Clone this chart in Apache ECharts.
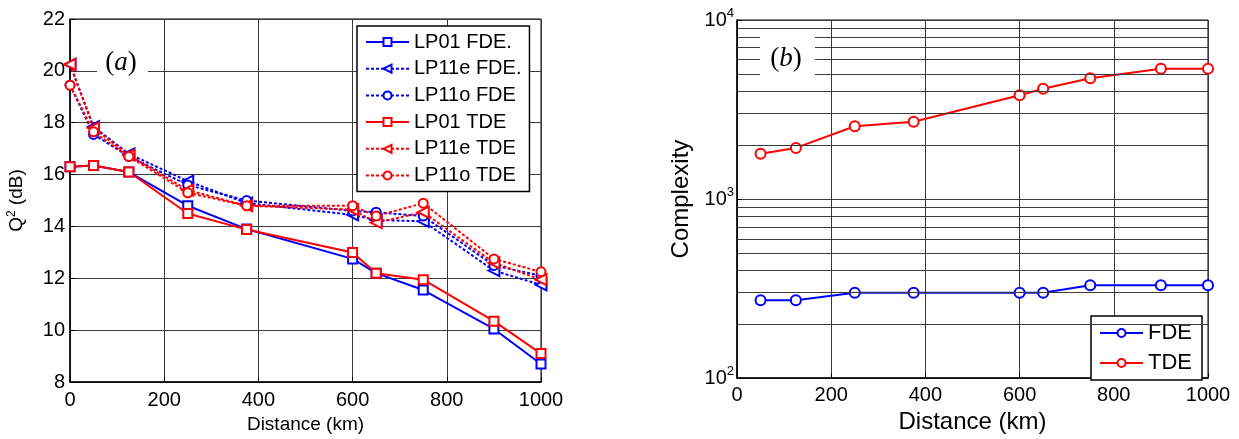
<!DOCTYPE html>
<html>
<head>
<meta charset="utf-8">
<script src="https://cdn.jsdelivr.net/npm/echarts@6/dist/echarts.min.js"></script>
<style>
html,body{margin:0;padding:0;background:#fff;}
#c{width:1239px;height:439px;}
</style>
</head>
<body>
<div id="c"></div>
<script>
// ---- Data (a) ----
const distA = [0, 50, 125, 250, 375, 600, 650, 750, 900, 1000];
const lp01FDE  = [16.3, 16.35, 16.1, 14.8, 13.9, 12.75, 12.2, 11.55, 10.05, 8.7];
const lp11eFDE = [20.25, 17.85, 16.8, 15.75, 14.9, 14.45, 14.25, 14.2, 12.3, 11.75];
const lp11oFDE = [19.45, 17.55, 16.7, 15.6, 15.0, 14.6, 14.55, 14.4, 12.5, 12.1];
const lp01TDE  = [16.3, 16.35, 16.1, 14.5, 13.88, 13.0, 12.2, 11.95, 10.35, 9.1];
const lp11eTDE = [20.25, 17.8, 16.75, 15.4, 14.8, 14.65, 14.15, 14.55, 12.6, 11.95];
const lp11oTDE = [19.45, 17.65, 16.7, 15.3, 14.8, 14.8, 14.4, 14.9, 12.75, 12.25];
// ---- Data (b) ----
const distB = [50, 125, 250, 375, 600, 650, 750, 900, 1000];
const complexFDE = [272, 272, 300, 300, 300, 300, 330, 330, 330];
const complexTDE = [1790, 1930, 2550, 2700, 3800, 4130, 4730, 5350, 5350];
const minorGridB = [200,300,400,500,600,700,800,900,2000,3000,4000,5000,6000,7000,8000,9000];

const FONT = '"Liberation Sans", Arial, sans-serif';
const BLUE = '#0000ff', RED = '#ff0000', GRID = '#3a3a3a';
const pairs = (xs, ys) => xs.map((x, i) => [x, ys[i]]);
const dotted = [3, 2];
const plain = v => String(v);

function lineSeries(name, xs, ys, color, symbol, dashed, extra) {
  const s = {
    name, type: 'line', xAxisIndex: 0, yAxisIndex: 0,
    data: pairs(xs, ys),
    symbol, symbolSize: symbol === 'emptyTriangle' ? 11 : 9,
    symbolRotate: symbol === 'emptyTriangle' ? 90 : 0,
    showAllSymbol: true,
    lineStyle: { color, width: 2, type: dashed ? dotted : 'solid' },
    itemStyle: { color, borderWidth: 1.5 },
    emphasis: { disabled: true },
    animation: false
  };
  return Object.assign(s, extra || {});
}

const axisCommon = {
  axisLine: { show: true, onZero: false, lineStyle: { color: '#000', width: 1.5 } },
  axisTick: { show: true, inside: true, length: 5, lineStyle: { color: '#000' } },
  axisLabel: { color: '#000', fontFamily: FONT, fontSize: 20, formatter: plain },
  splitLine: { show: true, lineStyle: { color: GRID, width: 1 } }
};

const option = {
  backgroundColor: '#fff',
  animation: false,
  grid: [
    { left: 70, top: 19, width: 471, height: 366, show: true, borderColor: '#000', borderWidth: 1 },
    { left: 737, top: 20, width: 471, height: 361, show: true, borderColor: '#000', borderWidth: 1 }
  ],
  xAxis: [
    Object.assign({}, axisCommon, {
      type: 'value', gridIndex: 0, min: 0, max: 1000, interval: 200,
      name: 'Distance (km)', nameLocation: 'middle', nameGap: 29,
      nameTextStyle: { color: '#000', fontFamily: FONT, fontSize: 19 },
      axisLabel: { color: '#000', fontFamily: FONT, fontSize: 20, margin: 8, formatter: plain }
    }),
    Object.assign({}, axisCommon, {
      type: 'value', gridIndex: 1, min: 0, max: 1000, interval: 200,
      name: 'Distance (km)', nameLocation: 'middle', nameGap: 22,
      nameTextStyle: { color: '#000', fontFamily: FONT, fontSize: 24 },
      axisLabel: { color: '#000', fontFamily: FONT, fontSize: 20, margin: 7, formatter: plain }
    })
  ],
  yAxis: [
    Object.assign({}, axisCommon, {
      type: 'value', gridIndex: 0, min: 8, max: 22, interval: 2,
      name: '{q|Q}{s|2}{q| (dB)}', nameLocation: 'middle', nameGap: 42,
      nameTextStyle: {
        color: '#000', fontFamily: FONT, fontSize: 19,
        rich: {
          q: { fontFamily: FONT, fontSize: 19, color: '#000' },
          s: { fontFamily: FONT, fontSize: 12, color: '#000', verticalAlign: 'top', padding: [0, 0, 10, 0] }
        }
      },
      axisLabel: { color: '#000', fontFamily: FONT, fontSize: 20, margin: 5, formatter: plain }
    }),
    Object.assign({}, axisCommon, {
      type: 'log', logBase: 10, gridIndex: 1, min: 100, max: 10000,
      name: 'Complexity', nameLocation: 'middle', nameGap: 44,
      nameTextStyle: { color: '#000', fontFamily: FONT, fontSize: 24 },
      axisLabel: {
        margin: 3,
        formatter: function (v) {
          const e = Math.round(Math.log10(v));
          return '{b|10}{s|' + e + '}';
        },
        rich: {
          b: { fontFamily: FONT, fontSize: 20, color: '#000' },
          s: { fontFamily: FONT, fontSize: 13, color: '#000', padding: [0, 0, 14, 0] }
        }
      }
    })
  ],
  legend: [
    {
      left: 357, top: 26, orient: 'vertical',
      padding: [6, 8, 6, 8],
      itemWidth: 43, itemHeight: 10, itemGap: 6.7,
      backgroundColor: '#fff', borderColor: '#000', borderWidth: 1.5, borderRadius: 0,
      textStyle: { color: '#000', fontFamily: FONT, fontSize: 20, lineHeight: 20 },
      data: ['LP01 FDE.', 'LP11e FDE.', 'LP11o FDE', 'LP01 TDE', 'LP11e TDE', 'LP11o TDE'],
      selectedMode: false
    },
    {
      left: 1091, top: 316, orient: 'vertical',
      padding: [6, 10, 6, 8],
      itemWidth: 43, itemHeight: 10, itemGap: 8,
      backgroundColor: '#fff', borderColor: '#000', borderWidth: 1.5, borderRadius: 0,
      textStyle: { color: '#000', fontFamily: FONT, fontSize: 22, lineHeight: 22 },
      data: ['FDE', 'TDE'],
      selectedMode: false
    }
  ],
  graphic: [
    { type: 'rect', z: 99, shape: { x: 97, y: 50, width: 51, height: 30 }, style: { fill: '#fff' } },
    { type: 'text', z: 100, x: 121, y: 63,
      style: { text: '{p|(}{i|a}{p|)}', align: 'center', verticalAlign: 'middle',
        rich: { p: { fontFamily: '"Liberation Serif", serif', fontSize: 27, fill: '#000' },
                i: { fontFamily: '"Liberation Serif", serif', fontStyle: 'italic', fontSize: 27, fill: '#000' } } } },
    { type: 'rect', z: 99, shape: { x: 760, y: 33, width: 55, height: 48 }, style: { fill: '#fff' } },
    { type: 'text', z: 100, x: 786, y: 59,
      style: { text: '{p|(}{i|b}{p|)}', align: 'center', verticalAlign: 'middle',
        rich: { p: { fontFamily: '"Liberation Serif", serif', fontSize: 27, fill: '#000' },
                i: { fontFamily: '"Liberation Serif", serif', fontStyle: 'italic', fontSize: 27, fill: '#000' } } } }
  ],
  series: [
    lineSeries('LP01 FDE.', distA, lp01FDE, BLUE, 'emptyRect', false),
    lineSeries('LP11e FDE.', distA, lp11eFDE, BLUE, 'emptyTriangle', true),
    lineSeries('LP11o FDE', distA, lp11oFDE, BLUE, 'emptyCircle', true),
    lineSeries('LP01 TDE', distA, lp01TDE, RED, 'emptyRect', false),
    lineSeries('LP11e TDE', distA, lp11eTDE, RED, 'emptyTriangle', true),
    lineSeries('LP11o TDE', distA, lp11oTDE, RED, 'emptyCircle', true),
    {
      name: 'FDE', type: 'line', xAxisIndex: 1, yAxisIndex: 1,
      data: pairs(distB, complexFDE),
      symbol: 'emptyCircle', symbolSize: 10, showAllSymbol: true,
      lineStyle: { color: BLUE, width: 2 }, itemStyle: { color: BLUE, borderWidth: 2 },
      emphasis: { disabled: true },
      markLine: {
        silent: true, symbol: ['none', 'none'], label: { show: false },
        lineStyle: { color: GRID, width: 1, type: 'solid' },
        data: minorGridB.map(v => ({ yAxis: v })),
        animation: false
      }
    },
    {
      name: 'TDE', type: 'line', xAxisIndex: 1, yAxisIndex: 1,
      data: pairs(distB, complexTDE),
      symbol: 'emptyCircle', symbolSize: 10, showAllSymbol: true,
      lineStyle: { color: RED, width: 2 }, itemStyle: { color: RED, borderWidth: 2 },
      emphasis: { disabled: true }
    }
  ]
};

const chart = echarts.init(document.getElementById('c'), null, { renderer: 'canvas' });
chart.setOption(option);
</script>
</body>
</html>
